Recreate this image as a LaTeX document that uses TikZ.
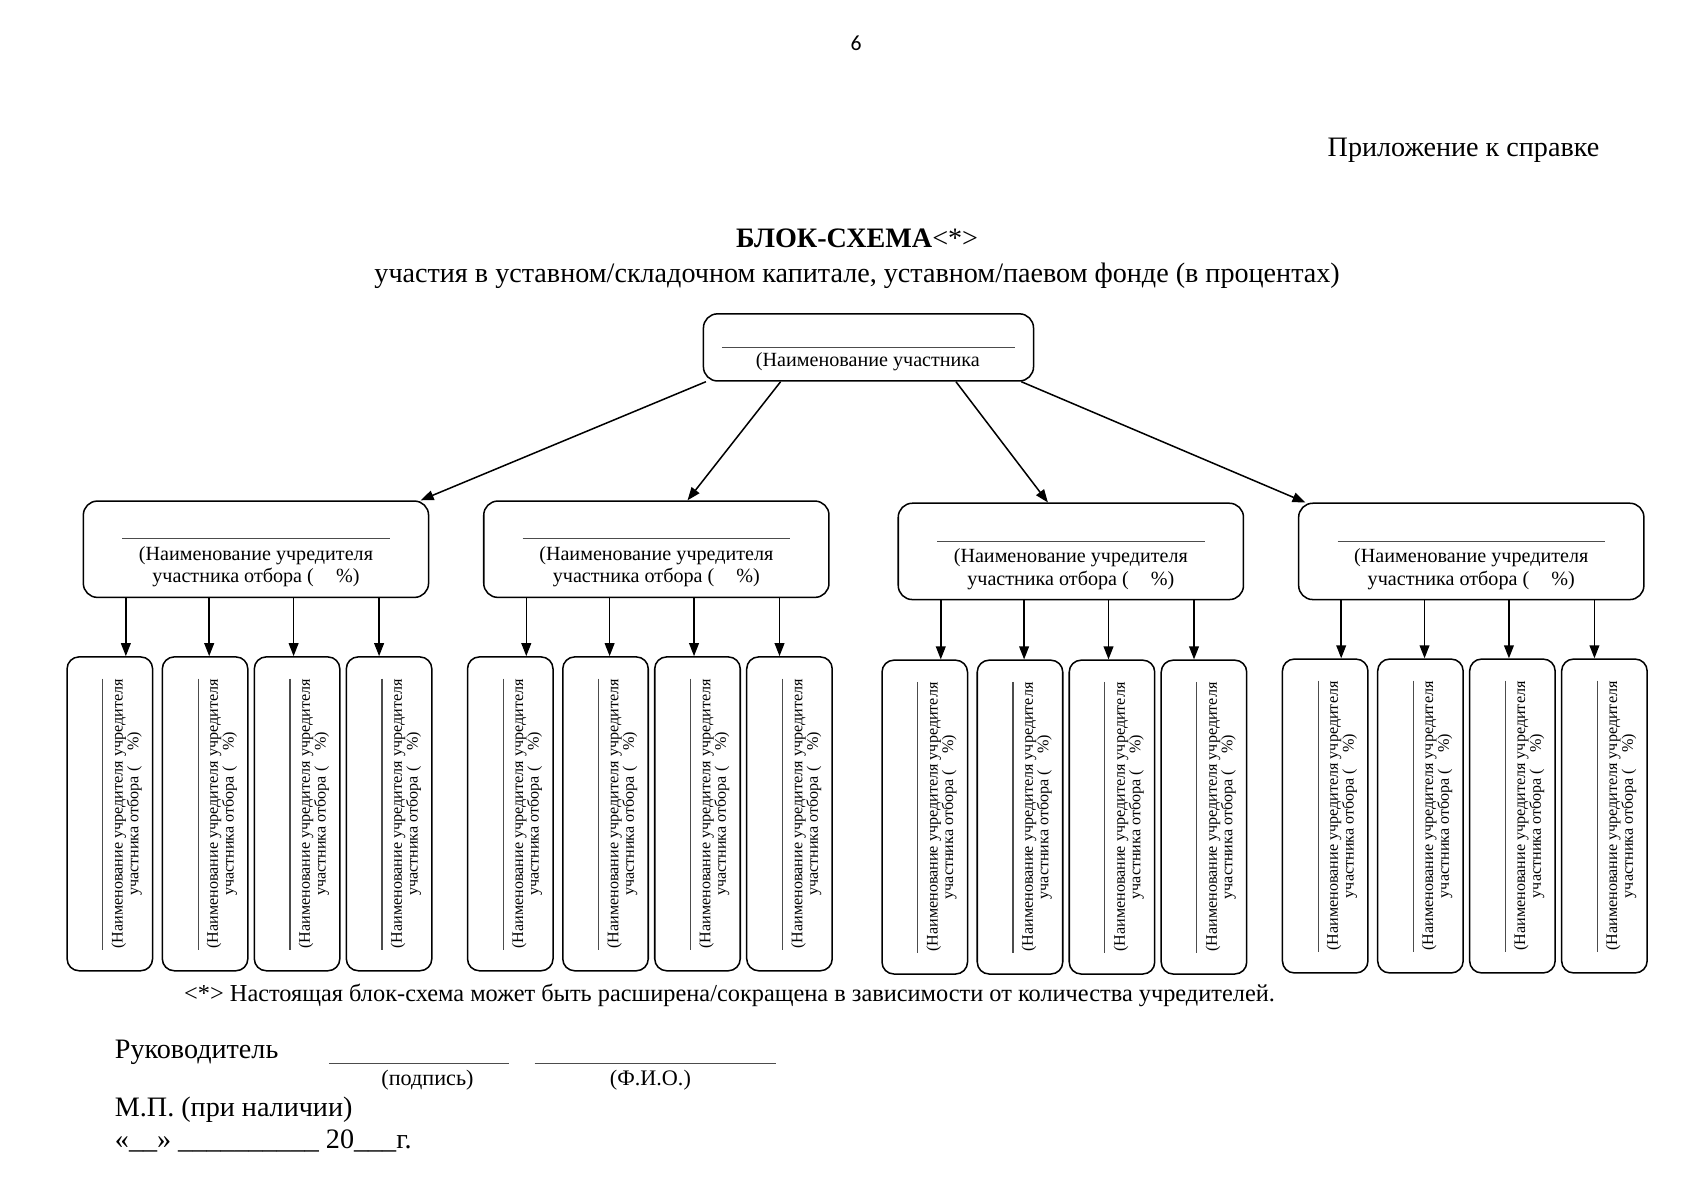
\documentclass[tikz,border=0pt]{standalone}
\usepackage{fontspec}
\setmainfont{Liberation Serif}
\newfontfamily\hdrfont{Carlito}
\usetikzlibrary{arrows.meta,calc}
\begin{document}
\begin{tikzpicture}[x=1pt,y=-1pt,
  box/.style={draw, line width=1.4pt, rounded corners=13pt, inner sep=0pt},
  smallbox/.style={box, rounded corners=11pt, minimum width=79pt, minimum height=290pt},
  arr/.style={line width=1.4pt, -{Triangle[length=12pt,width=9pt]}},
  rulel/.style={line width=1pt, black!70},
  big/.style={font=\fontsize{26}{30}\selectfont},
  midtext/.style={font=\fontsize{18.6}{20.5}\selectfont, align=center, inner sep=0pt},
  signtext/.style={font=\fontsize{20.5}{24}\selectfont, inner sep=0pt},
  smalltext/.style={font=\fontsize{14.9}{14.5}\selectfont, align=center, inner sep=0pt, rotate=90}]
\useasboundingbox (0,0) rectangle (1569,1109);

% header
\node[anchor=base, font=\hdrfont\fontsize{20}{24}\selectfont] (pg) at (791,47) {6};
\node[big, anchor=base east, inner sep=0pt] (app) at (1478,145) {Приложение к справке};
\node[big, anchor=base, inner sep=0pt] (title) at (792,229) {\bfseries БЛОК-СХЕМА\mdseries<*>};
\node[big, anchor=base, inner sep=0pt] (subt) at (792,261) {участия в уставном/складочном капитале, уставном/паевом фонде (в процентах)};

% top box
\node[box, minimum width=305pt, minimum height=62pt] (top) at (802.5,321) {};
\draw[rulel] (667,321) -- (938,321);
\node[midtext] (toptext) at (802,334) {(Наименование участника};

% groups
\foreach \g/\L/\BT/\ST in {1/77/463/607, 2/447/463/607, 3/830/465/610, 4/1200/465/609}{
  \node[box, minimum width=319pt, minimum height=89pt] (b\g) at (\L+159.5,\BT+44.5) {};
  \draw[rulel] (\L+36,\BT+35) -- (\L+283,\BT+35);
  \node[midtext] (bt\g) at (\L+159.5,\BT+61) {(Наименование учредителя\\участника отбора (\hspace{1.1em}\%)};
  \foreach \k/\o/\a in {1/0/40, 2/88/117, 3/173/195, 4/258/274}{
    \node[smallbox] (s\g\k) at (\L-15+\o+39.5,\ST+145) {};
    \draw[rulel] (\L-15+\o+33,\ST+20) -- (\L-15+\o+33,\ST+271);
    \node[smalltext] (st\g\k) at (\L-15+\o+55,\ST+145) {(Наименование учредителя учредителя\\участника отбора (\hspace{1em}\%)};
    \coordinate (a\g\k) at ($(b\g.south west)+(\a,0)$);
    \draw[arr] (a\g\k) -- (a\g\k |- s\g\k.north);
  }
}

% arrows from top
\coordinate (p1) at ($(top.south west)+(3,0)$);
\coordinate (q1) at ($(b1.north east)+(-8,0)$);
\coordinate (p2) at ($(top.south west)+(72,0)$);
\coordinate (q2) at ($(b2.north west)+(189,0)$);
\coordinate (p3) at ($(top.south west)+(234,0)$);
\coordinate (q3) at ($(b3.north west)+(139,0)$);
\coordinate (p4) at ($(top.south east)+(-12,0)$);
\coordinate (q4) at ($(b4.north west)+(7,0)$);
\foreach \i in {1,2,3,4}{\draw[arr] (p\i) -- (q\i);}

% footnote and signatures
\node[anchor=base west, inner sep=0pt, font=\fontsize{22.5}{26}\selectfont] (foot) at (170,925) {<*> Настоящая блок-схема может быть расширена/сокращена в зависимости от количества учредителей.};
\node[big, anchor=base west, inner sep=0pt] (ruk) at (106,978) {Руководитель};
\coordinate (l1a) at (304,983); \coordinate (l1b) at (470,983);
\coordinate (l2a) at (494,983); \coordinate (l2b) at (717,983);
\draw[rulel] (l1a) -- (l1b);
\draw[rulel] (l2a) -- (l2b);
\node[signtext, anchor=base] (podp) at (395,1003) {(подпись)};
\node[signtext, anchor=base] (fio) at (601,1003) {(Ф.И.О.)};
\node[big, anchor=base west, inner sep=0pt] (mp) at (106,1032) {М.П. (при наличии)};
\node[big, anchor=base west, inner sep=0pt] (date) at (106,1061) {«\_\_» \_\_\_\_\_\_\_\_\_\_ 20\_\_\_г.};
\end{tikzpicture}
\end{document}
